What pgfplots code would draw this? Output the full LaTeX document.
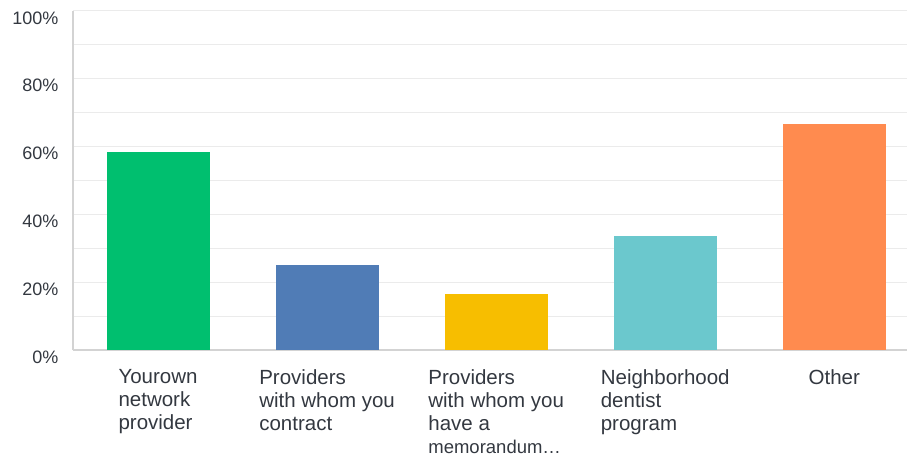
\documentclass[border=0pt]{standalone}
\usepackage{pgfplots}
\pgfplotsset{compat=1.18}
\usepackage{fontspec}
\setmainfont{Liberation Sans}
\definecolor{cgreen}{HTML}{00BF6F}
\definecolor{cblue}{HTML}{507CB6}
\definecolor{cyellow}{HTML}{F7BE00}
\definecolor{cteal}{HTML}{6BC8CD}
\definecolor{corange}{HTML}{FF8B4F}
\definecolor{ctext}{HTML}{333840}
\definecolor{cgrid}{HTML}{EBEBEB}
\definecolor{caxis}{HTML}{D3D3D3}
\begin{document}
\begin{tikzpicture}
\begin{axis}[
  scale only axis,
  width=834pt, height=339pt,
  xmin=-0.503, xmax=4.43,
  ymin=0, ymax=100,
  axis x line*=bottom, axis y line*=left,
  axis line style={draw=caxis, line width=1.4pt, -},
  xtick={0,1,2,3,4},
  xticklabels={{Yourown\\network\\provider},{Providers\\with whom you\\contract},{Providers\\with whom you\\have a\\{\fontsize{18.5}{23}\selectfont memorandum\ldots}},{Neighborhood\\dentist\\program},{Other}},
  xticklabel style={align=left, font=\fontsize{20.5}{23}\selectfont, text=ctext, anchor=north, yshift=-16pt},
  ytick={0,10,20,30,40,50,60,70,80,90,100},
  yticklabels={0\%,,20\%,,40\%,,60\%,,80\%,,100\%},
  yticklabel style={font=\fontsize{18}{20}\selectfont, text=ctext, yshift=-7pt, xshift=-11pt},
  major tick length=0pt,
  ymajorgrids,
  grid style={draw=cgrid, line width=1pt},
  ybar, bar width=103pt,
  every axis plot/.append style={bar shift=0pt, draw=none},
]
\addplot[fill=cgreen] coordinates {(0,58.5)};
\addplot[fill=cblue] coordinates {(1,25.1)};
\addplot[fill=cyellow] coordinates {(2,16.4)};
\addplot[fill=cteal] coordinates {(3,33.6)};
\addplot[fill=corange] coordinates {(4,66.6)};
\end{axis}
\pgfresetboundingbox
\path (current axis.south west) ++(-73pt,-111pt) rectangle ++(909pt,461pt);
\end{tikzpicture}
\end{document}
